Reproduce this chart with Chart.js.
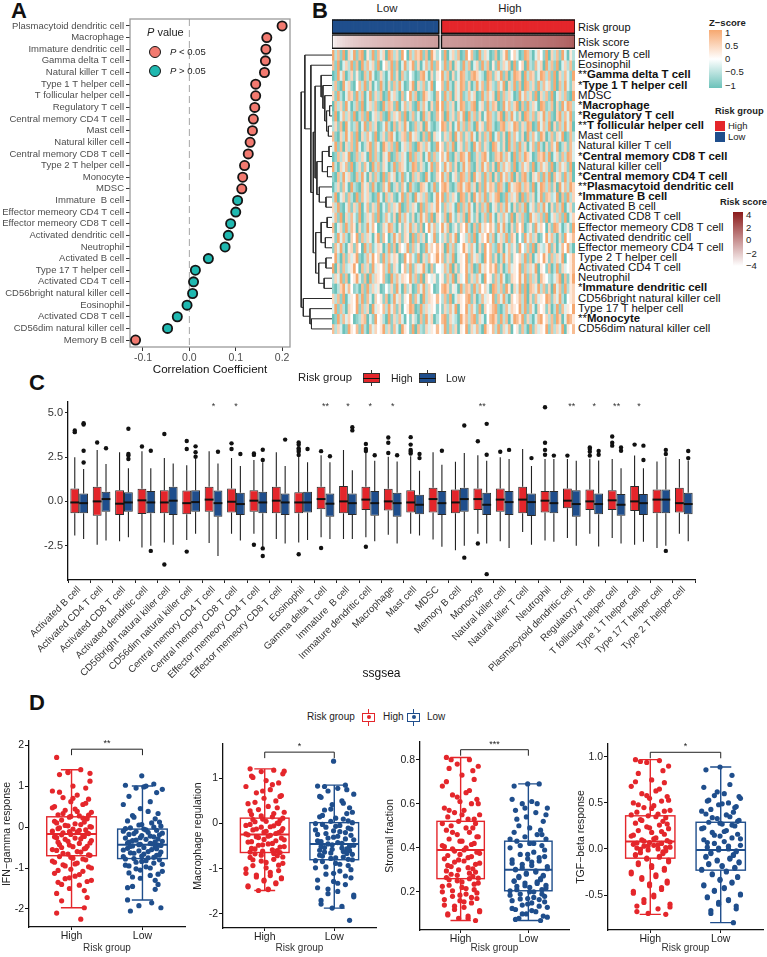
<!DOCTYPE html>
<html>
<head>
<meta charset="utf-8">
<title>Immune infiltration and risk group</title>
<script src="https://cdn.jsdelivr.net/npm/chart.js@4.4.1/dist/chart.umd.min.js"></script>
<style>
  body { margin: 0; background: #fff; }
  #page { position: relative; width: 767px; height: 957px; overflow: hidden; background: #fff;
          font-family: "Liberation Sans", Arial, Helvetica, sans-serif; color: #111; }
  #page canvas { position: absolute; }
  .t { position: absolute; white-space: nowrap; line-height: 1; }
  .letter { position: absolute; font-weight: bold; font-size: 22px; line-height: 22px; }
  .sw { position: absolute; box-sizing: border-box; }
</style>
</head>
<body>
<div id="page">
  <div class="letter" style="left:11px;top:0px">A</div>
  <div class="letter" style="left:312px;top:0px">B</div>
  <div class="letter" style="left:29px;top:372px">C</div>
  <div class="letter" style="left:29px;top:692px">D</div>

  <canvas id="cA" width="300" height="380" style="left:0;top:0"></canvas>
  <canvas id="cDendro" width="32" height="284" style="left:300px;top:50px"></canvas>
  <canvas id="cAnno" width="243" height="31" style="left:332px;top:19px"></canvas>
  <canvas id="cHeat" width="243" height="284" style="left:332px;top:50px"></canvas>
  <canvas id="cC" width="767" height="320" style="left:0;top:378px"></canvas>
  <canvas id="cD1" width="190" height="227" style="left:0;top:730px"></canvas>
  <canvas id="cD2" width="190" height="227" style="left:190px;top:730px"></canvas>
  <canvas id="cD3" width="193" height="227" style="left:380px;top:730px"></canvas>
  <canvas id="cD4" width="197" height="227" style="left:570px;top:730px"></canvas>
</div>
<script>
// ---------- panel A: correlation with risk score ----------
const aCells = ['Plasmacytoid dendritic cell', 'Macrophage', 'Immature dendritic cell', 'Gamma delta T cell',
  'Natural killer T cell', 'Type 1 T helper cell', 'T follicular helper cell', 'Regulatory T cell',
  'Central memory CD4 T cell', 'Mast cell', 'Natural killer cell', 'Central memory CD8 T cell',
  'Type 2 T helper cell', 'Monocyte', 'MDSC', 'Immature  B cell', 'Effector memeory CD4 T cell',
  'Effector memeory CD8 T cell', 'Activated dendritic cell', 'Neutrophil', 'Activated B cell',
  'Type 17 T helper cell', 'Activated CD4 T cell', 'CD56bright natural killer cell', 'Eosinophil',
  'Activated CD8 T cell', 'CD56dim natural killer cell', 'Memory B cell'];
const aCorr = [0.200, 0.167, 0.165, 0.164, 0.162, 0.143, 0.143, 0.141, 0.138, 0.136, 0.131, 0.127,
  0.119, 0.115, 0.113, 0.104, 0.100, 0.089, 0.084, 0.077, 0.041, 0.013, 0.009, 0.007, -0.005,
  -0.026, -0.047, -0.116];
const aSignificant = [1,1,1,1,1,1,1,1,1,1,1,1,1,1,1,0,0,0,0,0,0,0,0,0,0,0,0,1];
const aXTicks = [-0.1, 0, 0.1, 0.2];

// ---------- panel B: ssGSEA heatmap ----------
const heatRows = ['Memory B cell', 'Eosinophil', 'Gamma delta T cell', 'Type 1 T helper cell', 'MDSC',
  'Macrophage', 'Regulatory T cell', 'T follicular helper cell', 'Mast cell', 'Natural killer T cell',
  'Central memory CD8 T cell', 'Natural killer cell', 'Central memory CD4 T cell',
  'Plasmacytoid dendritic cell', 'Immature  B cell', 'Activated B cell', 'Activated CD8 T cell',
  'Effector memeory CD8 T cell', 'Activated dendritic cell', 'Effector memeory CD4 T cell',
  'Type 2 T helper cell', 'Activated CD4 T cell', 'Neutrophil', 'Immature dendritic cell',
  'CD56bright natural killer cell', 'Type 17 T helper cell', 'Monocyte', 'CD56dim natural killer cell'];
const heatStars = ['', '', '**', '*', '', '*', '*', '**', '', '', '*', '', '*', '**', '*', '', '', '',
  '', '', '', '', '', '*', '', '', '**', ''];
// z-scores coded 0..8  (0 = -1, 4 = 0, 8 = +1), one character per sample
const heatLow = [
  '8271806381 7805281736 0872618407 2768170852', '7180362817 0827361804 6281703825 8160372817',
  '0183702615 1072830162 0381607214 2017830615', '2710836104 7281603182 0617283015 8062713804',
  '6182037618 2703816270 1836207148 2701863207', '0726183027 1803627108 2761803726 1082730618',
  '1803726180 2718036271 0826371802 7130826017', '2617083127 0381726013 8207162830 1726083102',
  '7106283718 0627318026 1783026718 3620718063', '3817062718 3026817308 6271803627 1086273018',
  '0172638017 2630817206 3801726308 1726038172', '8206371802 6173082716 3028176302 8716203817',
  '1072836107 2830617208 1736028130 7261083016', '0261730821 0736182017 3802617308 2107630281',
  '2803617208 1736201830 7261038172 0836271038', '6281037162 8037162803 1726380172 6308172638',
  '3718062731 8026371802 7316082731 6028371806', '7036182750 6128374016 3872051638 2617048372',
  '5183720648 1726305817 4028371650 8172604381', '1738205617 4082713650 2817064381 7250183647',
  '4820716358 1027384618 2736501847 3180627458', '8061723584 0726183547 2816304728 1635820714',
  '2638170458 3170826547 1082736548 2718064351', '1026837412 0718263501 4261830725 0173826401',
  '6271803548 2817306451 7028361548 1730826547', '3817206548 1726083547 2837160458 7018263541',
  '0182736401 2670318452 0816273041 5207183602', '7263018547 1820736458 2617308541 8072163547'];
const heatHigh = [
  '1803627018 4710826301 7025814630 1872036418 0627183052', '2817063182 7036182705 1826370814 6082173608 2718036271',
  '8270613872 1786320871 6381702876 0827613872 7180627318', '7182063871 6028371862 1738062817 0872618273 6180728316',
  '1827063812 7360182736 0817263018 3726180627 1803627108', '8172603871 2780361827 6018372680 7182630871 2706183872',
  '7082617380 8271603872 1680728316 0872716382 7106827381', '8716038271 7208361872 0178263871 6287018372 8061728370',
  '1627083716 2830617280 3716082731 6082731860 2716380172', '6172803617 2083716208 7316082718 2603718206 1738026173',
  '7381062873 8016278301 7682730817 2863017682 8036172873', '2837160283 7106283716 0827361802 7361802736 1802736180',
  '8270361872 7083618270 6183728061 7820637182 8073618270', '7861027837 8260718376 1872083678 2761803872 7160837286',
  '8172630871 6083728163 7801826370 8172603817 6238071826', '1726308172 8306172803 6172830617 2803617283 0617280361',
  '2708316270 8316027183 0627318062 7108362718 0362718036', '8370251648 2071836475 1838206174 7025183640 6187302518',
  '2617380452 7180364827 0362817504 1837260148 3720618457', '6082713485 2730618472 1860372518 4271806325 8160374820',
  '7162803548 1736208471 6028371546 2817036485 1726380457', '3728061548 2701836475 8160273548 1726380541 7028163457',
  '5172806348 1627308451 7283016548 3817260754 2136807158', '7861530827 6182746308 7271850638 1807638271 6083718256',
  '2718036547 8160273548 1738206457 2806173548 7163820456', '1627380548 2731806457 8102736548 2817306451 6028173548',
  '7816320857 2781630478 6182703875 8162037846 2718603875', '3817260548 1637208547 2816370451 7208163548 1726380547'];
const riskScoreLow = [-3.62, -3.2, -2.95, -2.78, -2.6, -2.47, -2.35, -2.26, -2.15, -2.07, -1.98, -1.92,
  -1.85, -1.79, -1.72, -1.66, -1.61, -1.57, -1.51, -1.46, -1.42, -1.38, -1.33, -1.28, -1.24, -1.19,
  -1.15, -1.1, -1.06, -1.02, -0.98, -0.93, -0.89, -0.85, -0.8, -0.76, -0.71, -0.67, -0.62, -0.57];
const riskScoreHigh = [-0.52, -0.47, -0.44, -0.4, -0.36, -0.33, -0.29, -0.26, -0.22, -0.19, -0.15, -0.12,
  -0.08, -0.05, -0.01, 0.02, 0.06, 0.09, 0.13, 0.16, 0.2, 0.23, 0.27, 0.3, 0.34, 0.38, 0.41, 0.45, 0.49,
  0.52, 0.56, 0.6, 0.64, 0.68, 0.72, 0.76, 0.8, 0.85, 0.89, 0.94, 0.98, 1.03, 1.08, 1.13, 1.19, 1.25,
  1.32, 1.4, 1.5, 1.65];
// row clustering, hclust style: negative = leaf (row index + 1), positive = earlier merge
const dendroMerges = [[-6, -7, 0.8], [-8, -9, 1.2], [1, 2, 1.8], [-5, 3, 2.4], [-4, 4, 3.0], [-3, 5, 3.6],
  [-10, -11, 1.0], [-12, -13, 1.5], [7, 8, 3.2], [-15, -16, 2.0], [-14, 10, 4.2], [9, 11, 5.0], [6, 12, 5.6],
  [-17, -18, 1.6], [-19, -20, 2.2], [14, 15, 3.6], [-21, -22, 2.0], [-23, -24, 2.6], [17, 18, 4.4],
  [16, 19, 5.4], [13, 20, 6.2], [-2, 21, 7.0], [-1, 22, 9.0], [-27, -28, 6.8], [-26, 24, 7.3],
  [-25, 25, 9.5], [23, 26, 10.2]];

// ---------- panel C: ssGSEA scores by risk group ----------
const cCells = ['Activated B cell', 'Activated CD4 T cell', 'Activated CD8 T cell', 'Activated dendritic cell',
  'CD56bright natural killer cell', 'CD56dim natural killer cell', 'Central memory CD4 T cell',
  'Central memory CD8 T cell', 'Effector memeory CD4 T cell', 'Effector memeory CD8 T cell', 'Eosinophil',
  'Gamma delta T cell', 'Immature  B cell', 'Immature dendritic cell', 'Macrophage', 'Mast cell', 'MDSC',
  'Memory B cell', 'Monocyte', 'Natural killer cell', 'Natural killer T cell', 'Neutrophil',
  'Plasmacytoid dendritic cell', 'Regulatory T cell', 'T follicular helper cell', 'Type 1 T helper cell',
  'Type 17 T helper cell', 'Type 2 T helper cell'];
const cSig = ['', '', '', '', '', '', '*', '*', '', '', '', '**', '*', '*', '*', '', '', '', '**', '', '', '',
  '**', '*', '**', '*', '', ''];
const cHighQ1 = [-0.67, -0.81, -0.77, -0.71, -0.67, -0.73, -0.58, -0.63, -0.58, -0.67, -0.67, -0.44, -0.67, -0.48,
  -0.52, -0.63, -0.62, -0.67, -0.48, -0.58, -0.67, -0.63, -0.38, -0.48, -0.48, -0.54, -0.67, -0.63];
const cHighMed = [-0.06, 0, -0.13, 0.06, -0.06, -0.1, 0.1, -0.02, 0.04, 0.04, -0.06, 0.13, 0, 0.1, 0, -0.06, 0.13,
  -0.06, 0.13, 0.1, 0.1, 0.04, 0.04, 0, 0.06, 0, 0.1, -0.1];
const cHighQ3 = [0.73, 0.83, 0.63, 0.71, 0.63, 0.62, 0.83, 0.73, 0.63, 0.83, 0.52, 0.83, 0.87, 0.83, 0.71, 0.63,
  0.77, 0.67, 0.73, 0.73, 0.83, 0.58, 0.73, 0.67, 0.63, 0.87, 0.67, 0.77];
const cHighMin = [-1.92, -2.44, -2.25, -2.6, -2.31, -2.17, -2.35, -1.83, -1.83, -2.12, -2.31, -2.02, -2.12, -2.02,
  -1.88, -1.83, -2.15, -2.75, -1.83, -2.25, -1.73, -2.21, -2.06, -1.83, -2.06, -2.44, -2.63, -1.83];
const cHighMax = [2.48, 2.9, 2.77, 2.83, 2.44, 2.04, 2.83, 2.44, 2.33, 2.77, 2.57, 2.6, 2.9, 2.77, 2.52, 2.55,
  2.77, 2.23, 2.6, 2.48, 2.95, 2.39, 2.39, 2.4, 2.39, 2.58, 2.25, 2.39];
const cHighOut = [[3.99, 3.9], [3.32], [], [3.09], [3.8, -3.56], [3.4, 2.95, -2.83], [], [3.27, 2.95],
  [2.7, 2.62, -2.44], [], [3.32, 3.2, 3.0, 2.9, 2.8, 2.62, -2.98], [2.83, -2.63], [], [3.24, 2.95, 2.84, -2.56],
  [3.6, 3.3, 2.73], [3.62, 3.2, 2.9, 2.8, 2.7], [], [], [3.39, -2.37], [2.8], [], [5.3, 3.3, 2.9, 2.63], [2.58],
  [3.04, 2.95, 2.8, 2.58], [3.66, 3.3, 3.14], [3.2], [], []];
const cLowQ1 = [-0.67, -0.58, -0.58, -0.67, -0.77, -0.58, -0.87, -0.77, -0.67, -0.77, -0.62, -0.87, -0.77, -0.81,
  -0.87, -0.73, -0.77, -0.58, -0.77, -0.77, -0.83, -0.67, -0.87, -0.73, -0.81, -0.77, -0.67, -0.73];
const cLowMed = [-0.1, 0.13, -0.06, -0.06, 0.04, -0.04, -0.1, -0.15, -0.06, -0.06, -0.06, -0.13, -0.1, -0.1, -0.1,
  -0.19, -0.1, 0.13, -0.19, -0.04, -0.04, -0.1, -0.15, -0.15, -0.19, -0.1, 0.1, -0.15];
const cLowQ3 = [0.44, 0.54, 0.52, 0.58, 0.83, 0.63, 0.62, 0.48, 0.54, 0.44, 0.54, 0.44, 0.44, 0.58, 0.48, 0.38,
  0.58, 0.77, 0.48, 0.58, 0.44, 0.58, 0.63, 0.44, 0.42, 0.42, 0.67, 0.48];
const cLowMin = [-2.12, -2.21, -2.02, -2.5, -2.44, -1.83, -3.08, -2.21, -2.6, -2.37, -2.17, -2.12, -2.12, -2.25,
  -2.37, -1.92, -2.56, -2.5, -2.37, -2.63, -2.44, -2.27, -2.5, -2.54, -2.37, -2.27, -2.5, -2.25];
const cLowMax = [1.82, 2.1, 1.87, 1.87, 2.14, 2.48, 2.14, 2.0, 2.2, 2.0, 2.2, 2.2, 1.76, 2.29, 2.25, 1.72, 2.06,
  2.72, 2.29, 2.39, 2.0, 2.39, 2.29, 2.3, 1.87, 1.87, 2.48, 2.3];
const cLowOut = [[4.4, 4.33, 2.85, 2.19], [2.99], [4.09, 2.67, 2.58, 2.39], [2.85, -2.79], [], [3.1, 2.77, 2.52],
  [2.8], [2.67], [2.91, 2.33, -2.65, -3.08], [3.48], [2.95], [2.54], [4.18, 4.0], [2.6], [2.6], [2.67, 2.44],
  [2.85], [4.28, -3.17], [4.37, 2.63, -4.1], [2.9], [2.44], [2.58], [], [2.84, 2.63], [3.04, 2.85], [3.14, 2.33],
  [2.9, 2.67, -2.79], [2.84, 2.44]];

// ---------- panel D: signatures by risk group ----------
const dGroups = ['High', 'Low'];
const dTitles = ['IFN\u2212gamma response', 'Macrophage regulation', 'Stromal fraction', 'TGF\u2212beta response'];
const dSig = ['**', '*', '***', '*'];
const dHighQ1 = [-0.7, -0.64, 0.26, -0.1], dHighMed = [-0.17, -0.24, 0.39, 0.08], dHighQ3 = [0.25, 0.12, 0.52, 0.36];
const dHighLo = [-1.97, -1.48, 0.07, -0.71], dHighHi = [1.4, 1.21, 0.81, 0.97];
const dLowQ1 = [-0.77, -0.8, 0.205, -0.23], dLowMed = [-0.43, -0.45, 0.3, -0.01], dLowQ3 = [-0.05, 0.02, 0.43, 0.29];
const dLowLo = [-1.78, -1.87, 0.07, -0.8], dLowHi = [1.0, 0.85, 0.69, 0.89];
const dBracket = [1.9, 1.58, 0.845, 1.05];
const dYMin = [-2.44, -2.31, 0.027, -0.88], dYMax = [2.1, 1.76, 0.88, 1.14];
const dYTicks = [[-2, -1, 0, 1, 2], [-2, -1, 0, 1], [0.2, 0.4, 0.6, 0.8], [-0.5, 0, 0.5, 1.0]];
const dDecimals = [0, 0, 1, 1];
const ifnHigh = [1.7, 1.4, 1.35, 1.31, 1.28, 1.0, 0.95, 0.88, 0.78, 0.72, 0.68, 0.62, 0.55, 0.5, 0.44, 0.41, 0.36,
  0.3, 0.27, 0.24, 0.2, 0.17, 0.12, 0.1, 0.06, 0.03, 0.01, -0.02, -0.05, -0.07, -0.1, -0.12, -0.14, -0.16, -0.18,
  -0.21, -0.24, -0.27, -0.3, -0.33, -0.37, -0.4, -0.44, -0.47, -0.5, -0.53, -0.57, -0.61, -0.66, -0.69, -0.72,
  -0.76, -0.8, -0.83, -0.88, -0.92, -0.97, -1.03, -1.08, -1.13, -1.2, -1.26, -1.3, -1.35, -1.42, -1.5, -1.72,
  -1.8, -1.97, -2.1, -2.25, 1.33, 1.12, 0.85, 0.7, 0.58, 0.47, 0.38, 0.33, 0.29, 0.26, 0.22, 0.14, 0.08, 0.04,
  0.0, -0.04, -0.08, -0.11, -0.15, -0.19, -0.23, -0.26, -0.29, -0.35, -0.39, -0.43, -0.48, -0.52, -0.55, -0.6,
  -0.64, -0.68, -0.74, -0.78, -0.86, -0.9, -0.95, -1.0, -1.06, -1.16, -1.24, -1.33, -1.4, -1.55, -1.62];
const ifnLow = [1.25, 1.05, 1.02, 1.0, 0.95, 0.92, 0.75, 0.62, 0.45, 0.33, 0.28, 0.2, 0.15, 0.1, 0.05, 0.02, -0.02,
  -0.05, -0.08, -0.1, -0.13, -0.16, -0.19, -0.21, -0.24, -0.27, -0.3, -0.32, -0.35, -0.37, -0.4, -0.42, -0.44,
  -0.46, -0.49, -0.52, -0.55, -0.58, -0.61, -0.63, -0.66, -0.69, -0.72, -0.75, -0.77, -0.8, -0.84, -0.88, -0.93,
  -0.97, -1.02, -1.08, -1.12, -1.18, -1.25, -1.4, -1.45, -1.52, -1.78, -1.85, -1.92, -1.97, -2.05, 0.98, 0.84,
  0.55, 0.38, 0.24, 0.12, 0.06, 0.0, -0.04, -0.07, -0.11, -0.15, -0.18, -0.22, -0.26, -0.29, -0.33, -0.36, -0.39,
  -0.41, -0.43, -0.45, -0.47, -0.5, -0.53, -0.56, -0.6, -0.64, -0.67, -0.71, -0.74, -0.78, -0.82, -0.86, -0.91,
  -0.95, -1.0, -1.05, -1.15, -1.22, -1.3, -1.48];
const macHigh = [1.21, 1.18, 1.15, 1.1, 1.02, 0.95, 0.9, 0.82, 0.75, 0.68, 0.62, 0.56, 0.5, 0.44, 0.38, 0.31, 0.25,
  0.2, 0.15, 0.1, 0.07, 0.04, 0.01, -0.02, -0.05, -0.08, -0.11, -0.14, -0.17, -0.2, -0.23, -0.26, -0.29, -0.32,
  -0.35, -0.38, -0.41, -0.45, -0.48, -0.51, -0.55, -0.58, -0.61, -0.64, -0.67, -0.71, -0.75, -0.79, -0.83, -0.88,
  -0.93, -0.98, -1.04, -1.1, -1.15, -1.18, -1.22, -1.27, -1.33, -1.4, -1.45, -1.48, 1.16, 1.05, 0.86, 0.72, 0.6,
  0.47, 0.35, 0.28, 0.22, 0.17, 0.12, 0.09, 0.05, 0.0, -0.04, -0.07, -0.12, -0.16, -0.19, -0.22, -0.25, -0.28,
  -0.31, -0.36, -0.4, -0.44, -0.47, -0.52, -0.56, -0.6, -0.63, -0.66, -0.7, -0.74, -0.8, -0.86, -0.92, -1.0,
  -1.08, -1.14, -1.2, -1.25, -1.31, -1.38, -1.46];
const macLow = [1.38, 0.85, 0.83, 0.78, 0.72, 0.65, 0.58, 0.5, 0.42, 0.35, 0.3, 0.22, 0.15, 0.1, 0.05, 0.02, -0.02,
  -0.06, -0.1, -0.14, -0.18, -0.22, -0.26, -0.3, -0.34, -0.38, -0.42, -0.45, -0.48, -0.51, -0.54, -0.57, -0.6,
  -0.63, -0.66, -0.7, -0.74, -0.77, -0.8, -0.84, -0.88, -0.93, -0.98, -1.05, -1.12, -1.2, -1.28, -1.35, -1.42,
  -1.5, -1.55, -1.62, -1.78, -1.83, -1.87, -2.14, 0.82, 0.75, 0.6, 0.45, 0.32, 0.25, 0.18, 0.12, 0.06, 0.0,
  -0.04, -0.08, -0.12, -0.16, -0.2, -0.24, -0.28, -0.32, -0.36, -0.4, -0.44, -0.47, -0.5, -0.53, -0.56, -0.59,
  -0.62, -0.65, -0.68, -0.72, -0.76, -0.79, -0.82, -0.9, -0.96, -1.02, -1.1, -1.16, -1.25, -1.32, -1.45, -1.58,
  -1.7];
const stromHigh = [0.81, 0.8, 0.78, 0.77, 0.76, 0.73, 0.71, 0.68, 0.65, 0.64, 0.62, 0.61, 0.6, 0.58, 0.57, 0.56,
  0.55, 0.54, 0.53, 0.52, 0.51, 0.5, 0.49, 0.48, 0.47, 0.46, 0.45, 0.44, 0.43, 0.42, 0.41, 0.4, 0.395, 0.38, 0.37,
  0.36, 0.35, 0.34, 0.335, 0.33, 0.32, 0.31, 0.3, 0.29, 0.28, 0.27, 0.265, 0.26, 0.25, 0.24, 0.23, 0.22, 0.21,
  0.2, 0.19, 0.18, 0.17, 0.16, 0.15, 0.14, 0.13, 0.12, 0.11, 0.1, 0.09, 0.08, 0.07, 0.8, 0.75, 0.7, 0.66, 0.63,
  0.6, 0.57, 0.55, 0.53, 0.51, 0.49, 0.47, 0.45, 0.43, 0.415, 0.405, 0.39, 0.385, 0.375, 0.365, 0.355, 0.345,
  0.325, 0.315, 0.305, 0.295, 0.285, 0.275, 0.262, 0.255, 0.245, 0.235, 0.225, 0.215, 0.205, 0.195, 0.185, 0.175,
  0.165, 0.155, 0.135, 0.115, 0.095, 0.08];
const stromLow = [0.69, 0.69, 0.62, 0.61, 0.6, 0.58, 0.57, 0.56, 0.54, 0.52, 0.5, 0.48, 0.47, 0.46, 0.45, 0.44,
  0.43, 0.42, 0.41, 0.4, 0.38, 0.37, 0.36, 0.35, 0.34, 0.33, 0.32, 0.31, 0.305, 0.3, 0.29, 0.28, 0.275, 0.27, 0.26,
  0.25, 0.245, 0.24, 0.23, 0.225, 0.22, 0.21, 0.205, 0.2, 0.19, 0.18, 0.17, 0.165, 0.16, 0.15, 0.14, 0.13, 0.12,
  0.11, 0.1, 0.09, 0.08, 0.07, 0.68, 0.6, 0.58, 0.55, 0.53, 0.49, 0.46, 0.44, 0.42, 0.41, 0.39, 0.37, 0.355,
  0.345, 0.335, 0.325, 0.315, 0.302, 0.295, 0.285, 0.272, 0.265, 0.255, 0.248, 0.238, 0.228, 0.218, 0.21, 0.2,
  0.19, 0.185, 0.175, 0.168, 0.155, 0.145, 0.135, 0.125, 0.115, 0.1, 0.085, 0.075];
const tgfHigh = [0.97, 0.96, 0.94, 0.9, 0.82, 0.75, 0.72, 0.68, 0.63, 0.6, 0.57, 0.55, 0.52, 0.5, 0.47, 0.45, 0.42,
  0.4, 0.38, 0.36, 0.34, 0.32, 0.3, 0.28, 0.26, 0.24, 0.22, 0.2, 0.18, 0.16, 0.14, 0.12, 0.1, 0.09, 0.07, 0.06,
  0.05, 0.04, 0.03, 0.02, 0.01, 0, -0.01, -0.02, -0.04, -0.05, -0.07, -0.08, -0.1, -0.12, -0.15, -0.18, -0.21,
  -0.25, -0.28, -0.31, -0.35, -0.38, -0.42, -0.46, -0.5, -0.55, -0.6, -0.62, -0.65, -0.7, -0.71, 0.95, 0.85,
  0.73, 0.65, 0.58, 0.53, 0.48, 0.44, 0.41, 0.37, 0.35, 0.31, 0.27, 0.23, 0.19, 0.15, 0.11, 0.085, 0.075, 0.065,
  0.045, 0.035, 0.015, -0.005, -0.03, -0.06, -0.09, -0.11, -0.14, -0.17, -0.2, -0.23, -0.27, -0.3, -0.33, -0.37,
  -0.4, -0.44, -0.48, -0.52, -0.58, -0.63, -0.68];
const tgfLow = [0.89, 0.8, 0.67, 0.6, 0.58, 0.55, 0.52, 0.5, 0.48, 0.46, 0.43, 0.4, 0.38, 0.35, 0.33, 0.31, 0.29,
  0.27, 0.25, 0.22, 0.2, 0.18, 0.16, 0.14, 0.12, 0.1, 0.08, 0.06, 0.04, 0.02, 0, -0.01, -0.03, -0.05, -0.07, -0.09,
  -0.11, -0.13, -0.15, -0.17, -0.19, -0.21, -0.23, -0.25, -0.28, -0.31, -0.34, -0.37, -0.4, -0.43, -0.46, -0.5,
  -0.53, -0.56, -0.6, -0.65, -0.7, -0.8, 0.86, 0.7, 0.62, 0.57, 0.53, 0.49, 0.45, 0.41, 0.37, 0.34, 0.3, 0.28,
  0.26, 0.23, 0.19, 0.15, 0.11, 0.07, 0.03, 0.01, -0.02, -0.04, -0.06, -0.08, -0.1, -0.12, -0.14, -0.16, -0.18,
  -0.2, -0.22, -0.24, -0.27, -0.3, -0.33, -0.36, -0.39, -0.42, -0.45, -0.49, -0.52, -0.55, -0.58, -0.62, -0.67];
const jitter = [-0.21, 0.13, -0.05, 0.26, -0.17, 0.02, 0.2, -0.27, 0.08, -0.12, 0.24, -0.01, 0.16, -0.24, 0.05,
  -0.09, 0.28, -0.19, 0.11, -0.03, 0.22, -0.14, 0.18];

// ---------- shared look ----------
const SALMON = '#F27A70', TEAL = '#1FB8B0';
const RED = '#E4262B', BLUE = '#1F4E8C';
Chart.defaults.font.family = '"Liberation Sans", Arial, Helvetica, sans-serif';
Chart.defaults.animation = false;
Chart.defaults.responsive = false;
Chart.defaults.plugins.legend.display = false;
Chart.defaults.plugins.tooltip.enabled = false;

const page = document.getElementById('page');
function text(x, y, html, css, anchor) {
  const d = document.createElement('div');
  d.className = 't';
  d.innerHTML = html;
  d.style.cssText += css || '';
  d.style.left = x + 'px';
  d.style.top = y + 'px';
  const tx = anchor === 'center' ? '-50%' : anchor === 'right' ? '-100%' : '0';
  d.style.transform = 'translate(' + tx + ',-50%)';
  page.appendChild(d);
  return d;
}
function box(x, y, w, h, css) {
  const d = document.createElement('div');
  d.className = 'sw';
  d.style.cssText += 'left:' + x + 'px;top:' + y + 'px;width:' + w + 'px;height:' + h + 'px;' + (css || '');
  page.appendChild(d);
  return d;
}

// ---------- A ----------
new Chart(document.getElementById('cA'), {
  type: 'scatter',
  data: {
    datasets: [{
      data: aCorr.map((v, i) => ({ x: v, y: i })),
      pointRadius: 4.6,
      pointBorderWidth: 1.8,
      pointBorderColor: '#151515',
      pointBackgroundColor: aSignificant.map(s => s ? SALMON : TEAL)
    }]
  },
  options: {
    layout: { padding: { top: 19, right: 10, left: 0, bottom: 0 } },
    scales: {
      x: {
        type: 'linear', min: -0.128, max: 0.217,
        afterBuildTicks: s => { s.ticks = aXTicks.map(v => ({ value: v })); },
        afterFit: s => { s.height = 33; },
        ticks: { callback: v => v.toFixed(1), color: '#4D4D4D', font: { size: 10.5 }, padding: 1 },
        grid: { drawOnChartArea: false, tickLength: 4, color: '#333' },
        border: { display: false },
        title: { display: true, text: 'Correlation Coefficient', color: '#111', font: { size: 11.6 },
                 padding: { top: 0, bottom: 3 } }
      },
      y: {
        type: 'linear', reverse: true, min: -0.6, max: aCells.length - 0.4,
        afterBuildTicks: s => { s.ticks = aCells.map((_, i) => ({ value: i })); },
        afterFit: s => { s.width = 130; },
        ticks: { autoSkip: false, callback: v => aCells[v], color: '#4D4D4D', font: { size: 9.5 }, padding: 2 },
        grid: { drawOnChartArea: false, tickLength: 4, color: '#333' },
        border: { display: false }
      }
    }
  },
  plugins: [{
    id: 'frameAndZero',
    beforeDatasetsDraw(chart) {
      const { ctx, chartArea: a, scales: { x } } = chart;
      ctx.save();
      ctx.strokeStyle = '#A6A6A6';
      ctx.lineWidth = 1;
      ctx.setLineDash([7, 4]);
      const x0 = x.getPixelForValue(0);
      ctx.beginPath(); ctx.moveTo(x0, a.top); ctx.lineTo(x0, a.bottom); ctx.stroke();
      ctx.setLineDash([]);
      ctx.strokeStyle = '#9A9A9A';
      ctx.lineWidth = 1.3;
      ctx.strokeRect(a.left, a.top, a.right - a.left, a.bottom - a.top);
      ctx.restore();
    }
  }]
});
text(147, 32, '<i>P</i> value', 'font-size:11px;color:#222');
box(148.7, 45.7, 12.6, 12.6, 'border-radius:50%;border:1.8px solid #151515;background:' + SALMON);
box(148.7, 64.7, 12.6, 12.6, 'border-radius:50%;border:1.8px solid #151515;background:' + TEAL);
text(170, 52, '<i>P</i> &lt; 0.05', 'font-size:9.5px;color:#222');
text(170, 71, '<i>P</i> &gt; 0.05', 'font-size:9.5px;color:#222');

// ---------- B ----------
const lowCodes = heatLow.map(s => s.replace(/ /g, ''));
const highCodes = heatHigh.map(s => s.replace(/ /g, ''));
const nLow = lowCodes[0].length, nHigh = highCodes[0].length;
const heatCols = Array.from({ length: nLow + 1 + nHigh }, (_, i) => i);
const TEAL_RGB = [108, 194, 186], ORANGE_RGB = [246, 168, 112];
function mix(c, t) {
  return 'rgb(' + c.map(v => Math.round(255 + (v - 255) * t)).join(',') + ')';
}
function zColor(code) {
  const d = Number(code);
  if (!isFinite(d)) return '#ffffff';
  const z = Math.max(-1, Math.min(1, (d - 4) / 4));
  return z < 0 ? mix(TEAL_RGB, -z) : mix(ORANGE_RGB, z);
}
function scoreColor(v) {
  const t = Math.max(0, Math.min(1, (v + 4) / 8));
  return mix([139, 26, 26], t);
}
const nRows = heatRows.length;
new Chart(document.getElementById('cHeat'), {
  type: 'bar',
  data: {
    labels: heatCols,
    datasets: heatRows.map((name, r) => ({
      label: name,
      data: heatCols.map(c => c === nLow ? null : [nRows - 1 - r, nRows - r]),
      backgroundColor: heatCols.map(c => c < nLow ? zColor(lowCodes[r][c])
        : c === nLow ? '#ffffff' : zColor(highCodes[r][c - nLow - 1])),
      borderWidth: 0, grouped: false, categoryPercentage: 1, barPercentage: 1
    }))
  },
  options: {
    layout: { padding: 0 },
    scales: { x: { display: false }, y: { display: false, min: 0, max: nRows } }
  }
});

const riskGroupCols = heatCols.map(c => c < nLow ? 'Low' : c === nLow ? null : 'High');
const riskScoreCols = heatCols.map(c => c < nLow ? riskScoreLow[c] : c === nLow ? null : riskScoreHigh[c - nLow - 1]);
new Chart(document.getElementById('cAnno'), {
  type: 'bar',
  data: {
    labels: heatCols,
    datasets: [
      { label: 'Risk group', data: riskGroupCols.map(g => g ? [16.7, 30] : null),
        backgroundColor: riskGroupCols.map(g => g === 'High' ? RED : BLUE),
        borderWidth: 0, grouped: false, categoryPercentage: 1, barPercentage: 1 },
      { label: 'Risk score', data: riskScoreCols.map(v => v === null ? null : [1.7, 15]),
        backgroundColor: riskScoreCols.map(v => v === null ? '#fff' : scoreColor(v)),
        borderWidth: 0, grouped: false, categoryPercentage: 1, barPercentage: 1 }
    ]
  },
  options: {
    layout: { padding: 0 },
    scales: { x: { display: false }, y: { display: false, min: 0, max: 31 } }
  },
  plugins: [{
    id: 'blockFrames',
    afterDatasetsDraw(chart) {
      const { ctx, scales: { y } } = chart;
      ctx.save();
      ctx.strokeStyle = '#111';
      ctx.lineWidth = 1.4;
      chart.data.datasets.forEach((ds, d) => {
        const bars = chart.getDatasetMeta(d).data;
        [[0, nLow - 1], [nLow + 1, nLow + nHigh]].forEach(([a, b]) => {
          const first = bars[a].getProps(['x', 'width'], true);
          const last = bars[b].getProps(['x', 'width'], true);
          const lo = ds.data[a][0], hi = ds.data[a][1];
          const x0 = first.x - first.width / 2, x1 = last.x + last.width / 2;
          ctx.strokeRect(x0, y.getPixelForValue(hi), x1 - x0, y.getPixelForValue(lo) - y.getPixelForValue(hi));
        });
      });
      ctx.restore();
    }
  }]
});

// dendrogram from merge table
const nodePos = [], nodeH = [];
function nodeOf(ref) {
  return ref < 0 ? { y: -ref - 1, h: 0 } : { y: nodePos[ref - 1], h: nodeH[ref - 1] };
}
const dendroSegs = dendroMerges.map(([a, b, h]) => {
  const na = nodeOf(a), nb = nodeOf(b);
  nodePos.push((na.y + nb.y) / 2);
  nodeH.push(h);
  return [{ x: na.h, y: na.y }, { x: h, y: na.y }, { x: h, y: nb.y }, { x: nb.h, y: nb.y }];
});
new Chart(document.getElementById('cDendro'), {
  type: 'scatter',
  data: {
    datasets: dendroSegs.map(seg => ({
      data: seg, showLine: true, pointRadius: 0, borderColor: '#2a2a2a', borderWidth: 1, tension: 0
    }))
  },
  options: {
    layout: { padding: 0 },
    scales: {
      x: { display: false, type: 'linear', min: 0, max: 10.6, reverse: true },
      y: { display: false, type: 'linear', min: -0.5, max: nRows - 0.5, reverse: true }
    }
  }
});

// heatmap labels and legends
const rowH = 284 / nRows;
heatRows.forEach((name, i) => {
  const html = heatStars[i] ? heatStars[i] + '<b>' + name + '</b>' : name;
  text(578, 50 + (i + 0.5) * rowH, html, 'font-size:11.4px;color:#111');
});
text(387, 9, 'Low', 'font-size:11.4px;color:#222', 'center');
text(510, 9, 'High', 'font-size:11.4px;color:#222', 'center');
text(578, 26.7, 'Risk group', 'font-size:11px;color:#111');
text(578, 41.7, 'Risk score', 'font-size:11px;color:#111');

text(709, 23, 'Z\u2212score', 'font-size:9.5px;font-weight:bold;color:#222');
box(709, 30, 13, 58, 'background:linear-gradient(to bottom,' + mix(ORANGE_RGB, 1) + ',#ffffff,' + mix(TEAL_RGB, 1) + ')');
[['1', 33], ['0.5', 46], ['0', 59], ['\u22120.5', 72], ['\u22121', 86]].forEach(([s, y]) =>
  text(725, y, s, 'font-size:9.5px;color:#222'));

text(715, 112, 'Risk group', 'font-size:9.3px;font-weight:bold;color:#222');
box(715, 121, 10, 10, 'background:' + RED);
box(715, 132, 10, 10, 'background:' + BLUE);
text(728, 126, 'High', 'font-size:9.5px;color:#222');
text(728, 137, 'Low', 'font-size:9.5px;color:#222');

text(767, 203, 'Risk score', 'font-size:9.3px;font-weight:bold;color:#222', 'right');
box(733, 212, 10, 54, 'background:linear-gradient(to bottom,' + scoreColor(4) + ',#ffffff)');
[['4', 215], ['2', 228], ['0', 240], ['\u22122', 254], ['\u22124', 266]].forEach(([s, y]) =>
  text(746, y, s, 'font-size:9.5px;color:#222'));

// ---------- C ----------
const cStats = [
  { q1: cHighQ1, med: cHighMed, q3: cHighQ3, min: cHighMin, max: cHighMax, out: cHighOut },
  { q1: cLowQ1, med: cLowMed, q3: cLowQ3, min: cLowMin, max: cLowMax, out: cLowOut }
];
new Chart(document.getElementById('cC'), {
  type: 'bar',
  data: {
    labels: cCells,
    datasets: [
      { label: 'High', data: cCells.map((_, i) => [cHighQ1[i], cHighQ3[i]]), backgroundColor: RED,
        borderColor: '#2b2b2b', borderWidth: 1, borderSkipped: false, categoryPercentage: 0.79, barPercentage: 1 },
      { label: 'Low', data: cCells.map((_, i) => [cLowQ1[i], cLowQ3[i]]), backgroundColor: BLUE,
        borderColor: '#2b2b2b', borderWidth: 1, borderSkipped: false, categoryPercentage: 0.79, barPercentage: 1 }
    ]
  },
  options: {
    layout: { padding: { top: 24, right: 72, left: 0, bottom: 0 } },
    scales: {
      x: {
        afterFit: s => { s.height = 118; },
        ticks: { autoSkip: false, maxRotation: 45, minRotation: 45, color: '#333', font: { size: 9.8 }, padding: 1 },
        grid: { drawOnChartArea: false, tickLength: 3, color: '#222' },
        border: { color: '#111', width: 1.3 },
        title: { display: true, text: 'ssgsea', color: '#111', font: { size: 12 }, padding: { top: 0, bottom: 17.6 } }
      },
      y: {
        min: -4.43, max: 5.6,
        afterBuildTicks: s => { s.ticks = [-2.5, 0, 2.5, 5].map(v => ({ value: v })); },
        afterFit: s => { s.width = 68; },
        ticks: { callback: v => v.toFixed(1), color: '#333', font: { size: 11 }, padding: 2 },
        grid: { drawOnChartArea: false, tickLength: 3, color: '#222' },
        border: { color: '#111', width: 1.3 }
      }
    }
  },
  plugins: [{
    id: 'boxParts',
    beforeDatasetsDraw(chart) {
      const { ctx, scales: { y } } = chart;
      ctx.save();
      ctx.strokeStyle = '#222';
      ctx.lineWidth = 1.1;
      cStats.forEach((st, d) => {
        chart.getDatasetMeta(d).data.forEach((bar, i) => {
          ctx.beginPath();
          ctx.moveTo(bar.x, y.getPixelForValue(st.max[i])); ctx.lineTo(bar.x, y.getPixelForValue(st.q3[i]));
          ctx.moveTo(bar.x, y.getPixelForValue(st.q1[i])); ctx.lineTo(bar.x, y.getPixelForValue(st.min[i]));
          ctx.stroke();
        });
      });
      ctx.restore();
    },
    afterDatasetsDraw(chart) {
      const { ctx, scales: { x, y } } = chart;
      ctx.save();
      cStats.forEach((st, d) => {
        chart.getDatasetMeta(d).data.forEach((bar, i) => {
          const ym = y.getPixelForValue(st.med[i]);
          ctx.strokeStyle = '#111';
          ctx.lineWidth = 2;
          ctx.beginPath(); ctx.moveTo(bar.x - bar.width / 2, ym); ctx.lineTo(bar.x + bar.width / 2, ym); ctx.stroke();
          ctx.fillStyle = '#111';
          st.out[i].forEach(v => {
            ctx.beginPath(); ctx.arc(bar.x, y.getPixelForValue(v), 2.2, 0, Math.PI * 2); ctx.fill();
          });
        });
      });
      ctx.fillStyle = '#333';
      ctx.font = '9px "Liberation Sans", Arial, sans-serif';
      ctx.textAlign = 'center';
      ctx.textBaseline = 'top';
      cSig.forEach((s, i) => { if (s) ctx.fillText(s, x.getPixelForValue(i), y.getPixelForValue(5.6)); });
      ctx.restore();
    }
  }]
});
text(298, 378, 'Risk group', 'font-size:11.3px;color:#222');
[[363, RED, 'High', 391], [419, BLUE, 'Low', 446]].forEach(([x, col, lab, tx]) => {
  box(x + 8, 370, 1, 16, 'background:#333');
  box(x, 373, 17, 10, 'background:' + col + ';border:1px solid #333');
  box(x, 377.5, 17, 1.4, 'background:#111');
  text(tx, 378, lab, 'font-size:10.5px;color:#222');
});

// ---------- D ----------
const dPoints = [[ifnHigh, ifnLow], [macHigh, macLow], [stromHigh, stromLow], [tgfHigh, tgfLow]];
const dLayout = [
  { yW: 29, xH: 30, top: 11, right: 5, titlePad: 0.7 },
  { yW: 33, xH: 29, top: 14, right: 3, titlePad: 1.7 },
  { yW: 40, xH: 27, top: 12, right: 3, titlePad: 3.7 },
  { yW: 38, xH: 27, top: 14, right: 4, titlePad: 4.7 }
];
dPoints.forEach((groups, k) => {
  const L = dLayout[k];
  const stats = [
    { q1: dHighQ1[k], med: dHighMed[k], q3: dHighQ3[k], lo: dHighLo[k], hi: dHighHi[k], color: RED },
    { q1: dLowQ1[k], med: dLowMed[k], q3: dLowQ3[k], lo: dLowLo[k], hi: dLowHi[k], color: BLUE }
  ];
  new Chart(document.getElementById('cD' + (k + 1)), {
    type: 'scatter',
    data: {
      datasets: groups.map((vals, g) => ({
        label: dGroups[g],
        data: vals.map((v, i) => ({ x: g + 1 + jitter[(i + g * 11) % jitter.length], y: v })),
        backgroundColor: stats[g].color, pointRadius: 2.6, pointBorderWidth: 0
      }))
    },
    options: {
      layout: { padding: { top: L.top, right: L.right, left: 0, bottom: 0 } },
      scales: {
        x: {
          type: 'linear', min: 0.4, max: 2.6,
          afterBuildTicks: s => { s.ticks = [{ value: 1 }, { value: 2 }]; },
          afterFit: s => { s.height = L.xH; },
          ticks: { callback: v => dGroups[v - 1], color: '#222', font: { size: 10.5 }, padding: 0 },
          grid: { drawOnChartArea: false, tickLength: 3, color: '#111' },
          border: { color: '#111', width: 1.3 },
          title: { display: true, text: 'Risk group', color: '#333', font: { size: 10 }, padding: { top: 0, bottom: 3 } }
        },
        y: {
          min: dYMin[k], max: dYMax[k],
          afterBuildTicks: s => { s.ticks = dYTicks[k].map(v => ({ value: v })); },
          afterFit: s => { s.width = L.yW; },
          ticks: { callback: v => v.toFixed(dDecimals[k]), color: '#222', font: { size: 10.5 }, padding: 1 },
          grid: { drawOnChartArea: false, tickLength: 4, color: '#111' },
          border: { color: '#111', width: 1.3 },
          title: { display: true, text: dTitles[k], color: '#222', font: { size: 10.5 }, padding: { top: L.titlePad, bottom: 0 } }
        }
      }
    },
    plugins: [{
      id: 'dBoxes',
      beforeDatasetsDraw(chart) {
        const { ctx, scales: { x, y } } = chart;
        ctx.save();
        ctx.lineWidth = 1.4;
        stats.forEach((st, g) => {
          const xc = x.getPixelForValue(g + 1);
          const hw = x.getPixelForValue(g + 1.35) - xc;
          const cw = x.getPixelForValue(g + 1.15) - xc;
          const p = v => y.getPixelForValue(v);
          ctx.strokeStyle = st.color;
          ctx.strokeRect(xc - hw, p(st.q3), hw * 2, p(st.q1) - p(st.q3));
          ctx.beginPath();
          ctx.moveTo(xc, p(st.q3)); ctx.lineTo(xc, p(st.hi));
          ctx.moveTo(xc - cw, p(st.hi)); ctx.lineTo(xc + cw, p(st.hi));
          ctx.moveTo(xc, p(st.q1)); ctx.lineTo(xc, p(st.lo));
          ctx.moveTo(xc - cw, p(st.lo)); ctx.lineTo(xc + cw, p(st.lo));
          ctx.stroke();
          ctx.lineWidth = 2;
          ctx.beginPath(); ctx.moveTo(xc - hw, p(st.med)); ctx.lineTo(xc + hw, p(st.med)); ctx.stroke();
          ctx.lineWidth = 1.4;
        });
        ctx.restore();
      },
      afterDatasetsDraw(chart) {
        const { ctx, scales: { x, y } } = chart;
        const yb = y.getPixelForValue(dBracket[k]);
        const x1 = x.getPixelForValue(1), x2 = x.getPixelForValue(2);
        ctx.save();
        ctx.strokeStyle = '#222';
        ctx.lineWidth = 1;
        ctx.beginPath();
        ctx.moveTo(x1, yb + 6); ctx.lineTo(x1, yb); ctx.lineTo(x2, yb); ctx.lineTo(x2, yb + 6);
        ctx.stroke();
        ctx.fillStyle = '#222';
        ctx.font = '9px "Liberation Sans", Arial, sans-serif';
        ctx.textAlign = 'center';
        ctx.textBaseline = 'bottom';
        ctx.fillText(dSig[k], (x1 + x2) / 2, yb - 1);
        ctx.restore();
      }
    }]
  });
});
text(307, 717, 'Risk group', 'font-size:10px;color:#222');
[[362, RED, 'High', 383], [407, BLUE, 'Low', 427]].forEach(([x, col, lab, tx]) => {
  box(x + 6, 709, 1.3, 17, 'background:' + col);
  box(x, 712.5, 13, 9.5, 'background:#fff;border:1.3px solid ' + col);
  box(x + 4.5, 715.3, 4, 4, 'border-radius:50%;background:' + col);
  text(tx, 717, lab, 'font-size:10px;color:#222');
});
</script>
</body>
</html>
